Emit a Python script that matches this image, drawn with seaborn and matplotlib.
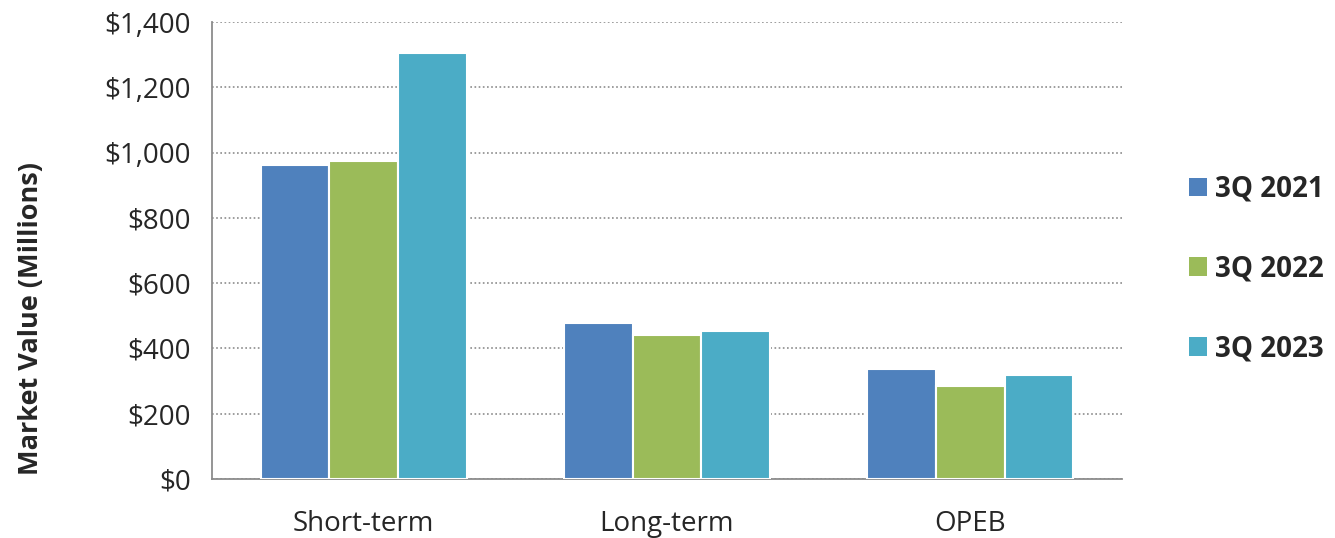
import matplotlib
matplotlib.use("Agg")
import matplotlib.pyplot as plt
import matplotlib.ticker as mticker
from matplotlib.patches import Patch
import seaborn as sns
import pandas as pd

categories = ["Short-term", "Long-term", "OPEB"]
series_names = ["3Q 2021", "3Q 2022", "3Q 2023"]
values_2021 = [962, 479, 338]
values_2022 = [974, 441, 285]
values_2023 = [1304, 453, 320]
colors = ["#4F81BD", "#9BBB59", "#4BACC6"]
y_ticks = [0, 200, 400, 600, 800, 1000, 1200, 1400]

df = pd.DataFrame({
    "Category": categories * 3,
    "Series": [s for s in series_names for _ in categories],
    "Value": values_2021 + values_2022 + values_2023,
})

sns.set_style("white")
plt.rcParams["font.family"] = ["Open Sans", "DejaVu Sans"]

fig = plt.figure(figsize=(13.35, 5.38), dpi=100)
ax = fig.add_axes([0.1588, 0.1097, 0.6816, 0.8494])

sns.barplot(data=df, x="Category", y="Value", hue="Series", order=categories,
            hue_order=series_names, palette=colors, width=0.68, saturation=1,
            edgecolor="white", linewidth=1.5, errorbar=None, legend=False, ax=ax,
            zorder=3)

ax.set_ylim(0, 1400)
ax.set_xlim(-0.5, 2.5)
ax.set_yticks(y_ticks)
ax.yaxis.set_major_formatter(mticker.FuncFormatter(lambda v, _: f"${v:,.0f}"))
ax.grid(axis="y", color="#8c8c8c", linestyle=(0, (1, 1.5)), linewidth=1.2, zorder=0)
ax.set_axisbelow(True)

for s in ["top", "right"]:
    ax.spines[s].set_visible(False)
for s in ["left", "bottom"]:
    ax.spines[s].set_color("#8c8c8c")
    ax.spines[s].set_linewidth(1.3)

ax.tick_params(axis="y", which="major", direction="out", length=7, width=1.3,
               color="#8c8c8c", labelsize=20, pad=8)
ax.tick_params(axis="x", which="major", length=0, labelsize=20, pad=22)
ax.set_xticks([-0.5, 0.5, 1.5, 2.5], minor=True)
ax.tick_params(axis="x", which="minor", direction="out", length=8, width=1.3,
               color="#8c8c8c")

ax.set_xlabel("")
ax.set_ylabel("Market Value (Millions)", fontsize=19.5, fontweight="bold")
ax.yaxis.set_label_coords(-0.185, 0.352)

handles = [Patch(facecolor=c, edgecolor="none") for c in colors]
fig.legend(handles, series_names, loc="center left", bbox_to_anchor=(0.882, 0.50),
           frameon=False, prop={"size": 20, "weight": "bold"},
           handlelength=0.65, handleheight=0.65, handletextpad=0.3, labelspacing=1.83,
           borderaxespad=0)

fig.savefig("out.png", dpi=100)
